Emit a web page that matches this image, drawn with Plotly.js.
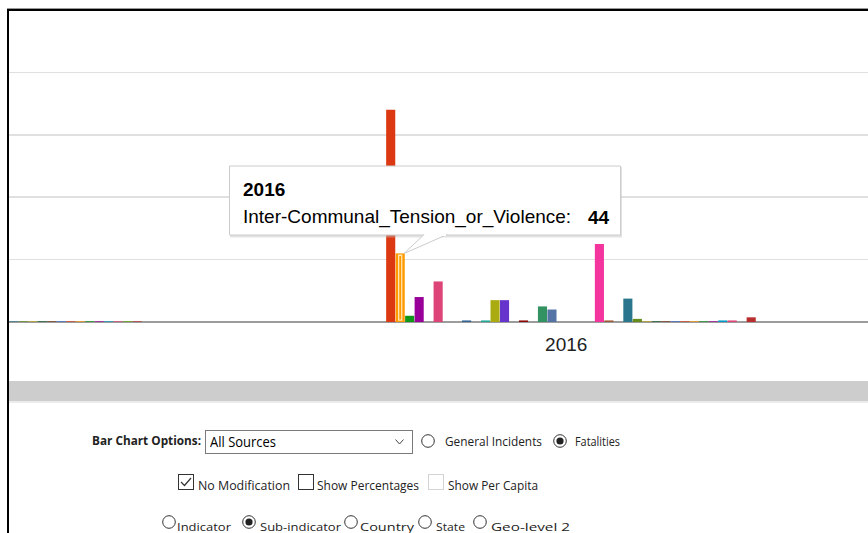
<!DOCTYPE html>
<html>
<head>
<meta charset="utf-8">
<script src="https://cdn.plot.ly/plotly-3.0.1.min.js"></script>
<style>
  html, body { margin:0; padding:0; background:#fff; width:868px; height:533px; overflow:hidden; }
  body { position:relative; font-family:"Open Sans","Noto Sans",sans-serif; color:#222; }
  #chart { position:absolute; left:0; top:0; width:868px; height:380px; }
  .frame { position:absolute; left:7px; top:9px; width:900px; height:600px; border-left:2px solid #000; border-top:2px solid #000; }
  .frametop { position:absolute; left:7px; top:8px; width:900px; height:1px; background:#999; }
  .scroll { position:absolute; left:9px; top:381px; width:859px; height:20px; background:#cdcdcd; border-bottom:2px solid #ececec; }
  .lbl { position:absolute; white-space:nowrap; font-size:12px; line-height:16px; transform-origin:0 50%; }
  .b { font-weight:700; }
  .sel { position:absolute; left:205px; top:430px; width:206px; height:22px; border:1px solid #7a7a7a; background:#fff; }
  .sel span { position:absolute; left:4px; top:1px; font-size:14.5px; line-height:20px; color:#000; transform-origin:0 50%; white-space:nowrap; }
  svg.ic { position:absolute; overflow:visible; }
</style>
</head>
<body>
<div id="chart"></div>
<div class="scroll"></div>
<div class="frametop"></div>
<div class="frame"></div>

<div class="lbl b" style="left:92px; top:433px;" data-w="109">Bar Chart Options:</div>
<div class="sel"><span data-w="66">All Sources</span>
  <svg class="ic" style="left:189px; top:8px;" width="10" height="6"><path d="M0.5,0.5 L4.5,5 L8.5,0.5" fill="none" stroke="#444" stroke-width="1"/></svg>
</div>
<svg class="ic" style="left:421px; top:434px;" width="14" height="14"><circle cx="7" cy="7" r="6.3" fill="#fff" stroke="#333" stroke-width="1"/></svg>
<div class="lbl" style="left:445px; top:434px;" data-w="97">General Incidents</div>
<svg class="ic" style="left:553px; top:434px;" width="14" height="14"><circle cx="7" cy="7" r="6.3" fill="#fff" stroke="#333" stroke-width="1"/><circle cx="7" cy="7" r="3.6" fill="#222"/></svg>
<div class="lbl" style="left:575px; top:434px;" data-w="45">Fatalities</div>

<svg class="ic" style="left:178px; top:474px;" width="16" height="16"><rect x="0.5" y="0.5" width="15" height="15" fill="#fff" stroke="#333" stroke-width="1"/><path d="M3,8 L6.5,11.5 L13,4" fill="none" stroke="#333" stroke-width="1.2"/></svg>
<div class="lbl" style="left:198px; top:478px;" data-w="92">No Modification</div>
<svg class="ic" style="left:298px; top:474px;" width="16" height="16"><rect x="0.5" y="0.5" width="15" height="15" fill="#fff" stroke="#333" stroke-width="1"/></svg>
<div class="lbl" style="left:317px; top:478px;" data-w="102">Show Percentages</div>
<svg class="ic" style="left:428px; top:474px;" width="16" height="16"><rect x="0.5" y="0.5" width="15" height="15" fill="#fff" stroke="#d4d4d4" stroke-width="1"/></svg>
<div class="lbl" style="left:448px; top:478px;" data-w="90">Show Per Capita</div>

<svg class="ic" style="left:162px; top:515px;" width="14" height="14"><circle cx="7" cy="7" r="6.3" fill="#fff" stroke="#333" stroke-width="1"/></svg>
<div class="lbl" style="left:177px; top:519px; font-size:11.5px;" data-w="54">Indicator</div>
<svg class="ic" style="left:242px; top:515px;" width="14" height="14"><circle cx="7" cy="7" r="6.3" fill="#fff" stroke="#333" stroke-width="1"/><circle cx="7" cy="7" r="3.6" fill="#222"/></svg>
<div class="lbl" style="left:260px; top:519px; font-size:11.5px;" data-w="81">Sub-indicator</div>
<svg class="ic" style="left:344px; top:515px;" width="14" height="14"><circle cx="7" cy="7" r="6.3" fill="#fff" stroke="#333" stroke-width="1"/></svg>
<div class="lbl" style="left:360px; top:519px; font-size:11.5px;" data-w="54">Country</div>
<svg class="ic" style="left:418px; top:515px;" width="14" height="14"><circle cx="7" cy="7" r="6.3" fill="#fff" stroke="#333" stroke-width="1"/></svg>
<div class="lbl" style="left:436px; top:519px; font-size:11.5px;" data-w="29">State</div>
<svg class="ic" style="left:473px; top:515px;" width="14" height="14"><circle cx="7" cy="7" r="6.3" fill="#fff" stroke="#333" stroke-width="1"/></svg>
<div class="lbl" style="left:491px; top:519px; font-size:11.5px;" data-w="79">Geo-level 2</div>

<script>
// ---- data ----
const years = [2015, 2016];
const yearLabels = ["2015", "2016"];
const seriesNames = [
  "Sub-indicator 1", "Sub-indicator 2", "Inter-Communal_Tension_or_Violence", "Sub-indicator 4",
  "Sub-indicator 5", "Sub-indicator 6", "Sub-indicator 7", "Sub-indicator 8",
  "Sub-indicator 9", "Sub-indicator 10", "Sub-indicator 11", "Sub-indicator 12",
  "Sub-indicator 13", "Sub-indicator 14", "Sub-indicator 15", "Sub-indicator 16",
  "Sub-indicator 17", "Sub-indicator 18", "Sub-indicator 19", "Sub-indicator 20",
  "Sub-indicator 21", "Sub-indicator 22", "Sub-indicator 23", "Sub-indicator 24",
  "Sub-indicator 25", "Sub-indicator 26", "Sub-indicator 27", "Sub-indicator 28",
  "Sub-indicator 29", "Sub-indicator 30", "Sub-indicator 31", "Sub-indicator 32",
  "Sub-indicator 33", "Sub-indicator 34", "Sub-indicator 35", "Sub-indicator 36",
  "Sub-indicator 37", "Sub-indicator 38", "Sub-indicator 39", "Sub-indicator 40"
];
const seriesColors = [
  "#3366cc","#dc3912","#ff9900","#109618","#990099","#0099c6","#dd4477","#66aa00",
  "#b82e2e","#316395","#994499","#22aa99","#aaaa11","#6633cc","#e67300","#8b0707",
  "#651067","#329262","#5574a6","#3b3eac","#b77322","#16d620","#b91383","#f4359e",
  "#9c5935","#a9c413","#2a778d","#668d1c","#bea413","#0c5922","#743411","#3366cc",
  "#dc3912","#ff9900","#109618","#990099","#0099c6","#dd4477","#66aa00","#b82e2e"
];
const values2015 = [
  0,0,0,0,0,0,0,0,0,0,
  0,0,0,0,0,0,0,0,0,0,
  0,0,0,0,0,0,0.4,0.4,0.4,0.4,
  0.4,0.4,0.4,0.4,0.4,0.4,0.4,0.4,0.4,0.4
];
const values2016 = [
  0,136,44,4,16,0,26,0,0,1,
  0,1,14,14,0,1,0,10,8,0,
  0,0,0,50,1,0,15,2,0.4,0.4,
  0.4,0.4,0.4,0.4,0.4,0.4,1,1,0,3
];
const tipYear = "2016";
const tipSeries = 2;

// ---- geometry (layout only) ----
const W = 868, H = 380, ML = 8, MT = 10, MB = 58;
const PW = W - ML, PH = H - MT - MB;
const BARGAP = 0.382, GROUPGAP = 0.04;
const px = v => (v - ML) / PW;          // pixel -> paper x
const py = v => (H - MB - v) / PH;      // pixel -> paper y

const traces = seriesNames.map((name, i) => ({
  type: "bar", name: name, x: years, y: [values2015[i], values2016[i]],
  marker: { color: seriesColors[i], line: { width: 0 } },
  hoverinfo: "skip"
}));

// highlight on hovered bar derived from the data
const N = seriesNames.length;
const slot = (1 - BARGAP) / N;
const tipX = Number(tipYear);
const cx = tipX + (tipSeries - (N - 1) / 2) * slot;
const bw = slot * (1 - GROUPGAP);
const tipVal = values2016[tipSeries];

const shapes = [
  // tooltip shadow
  { type:"rect", xref:"paper", yref:"paper", x0:px(230), x1:px(622), y0:py(237.5), y1:py(167),
    fillcolor:"rgba(190,190,190,0.45)", line:{width:0}, layer:"above" },
  // tooltip box
  { type:"rect", xref:"paper", yref:"paper", x0:px(229.5), x1:px(620.5), y0:py(235), y1:py(166),
    fillcolor:"#ffffff", line:{color:"#cccccc", width:1}, layer:"above" },
  // tail
  { type:"path", xref:"paper", yref:"paper",
    path:`M ${px(424)},${py(234.6)} L ${px(404)},${py(253.5)} L ${px(447)},${py(234.6)}`,
    fillcolor:"#ffffff", line:{color:"#cccccc", width:1}, layer:"above" },
  { type:"line", xref:"paper", yref:"paper", x0:px(424.8), x1:px(446), y0:py(235), y1:py(235),
    line:{color:"#ffffff", width:2}, layer:"above" },
  // hover highlight inside the bar
  { type:"rect", xref:"x", yref:"y", x0:cx - bw*0.17, x1:cx + bw*0.17, y0:1.2, y1:tipVal - 1.2,
    fillcolor:"rgba(0,0,0,0)", line:{color:"#ffe6b0", width:1.3}, layer:"above" }
];

const tipFont = "Liberation Sans, Arial, sans-serif";
const annotations = [
  { xref:"paper", yref:"paper", x:px(240.5), y:py(190), xanchor:"left", yanchor:"middle",
    text:"<b>" + tipYear + "</b>", showarrow:false, font:{family:tipFont, size:19, color:"#000"} },
  { xref:"paper", yref:"paper", x:px(240.5), y:py(217), xanchor:"left", yanchor:"middle",
    text: seriesNames[tipSeries] + ":", showarrow:false, font:{family:tipFont, size:19, color:"#000"} },
  { xref:"paper", yref:"paper", x:px(585.5), y:py(217), xanchor:"left", yanchor:"middle",
    text:"<b>" + tipVal + "</b>", showarrow:false, font:{family:tipFont, size:19, color:"#000"} }
];

const layout = {
  width: W, height: H, autosize: false,
  margin: { l: ML, r: 0, t: MT, b: MB, pad: 0 },
  paper_bgcolor: "rgba(0,0,0,0)", plot_bgcolor: "rgba(0,0,0,0)",
  barmode: "group", bargap: BARGAP, bargroupgap: GROUPGAP, showlegend: false,
  xaxis: {
    range: [2015.09088, 2016.49153], tickmode: "array", tickvals: years, ticktext: yearLabels,
    showgrid: false, zeroline: false, showline: false, ticks: "",
    tickfont: { family: tipFont, size: 19, color: "#222222" }, ticklabelstandoff: 9,
    automargin: false, fixedrange: true
  },
  yaxis: {
    range: [0, 200], tick0: 0, dtick: 40, showticklabels: false,
    gridcolor: "#e0e0e0", gridwidth: 1.5,
    zeroline: true, zerolinecolor: "#9c9c9c", zerolinewidth: 2,
    automargin: false, fixedrange: true
  },
  shapes: shapes, annotations: annotations
};

Plotly.newPlot("chart", traces, layout, { displayModeBar: false, staticPlot: true });

// fit form labels to their measured widths
function fit() {
  document.querySelectorAll("[data-w]").forEach(el => {
    el.style.display = "inline-block";
    const w = el.getBoundingClientRect().width;
    const target = Number(el.getAttribute("data-w"));
    if (w > 0) el.style.transform = "scaleX(" + (target / w) + ")";
  });
}
if (document.fonts && document.fonts.ready) document.fonts.ready.then(fit); else fit();
</script>
</body>
</html>
